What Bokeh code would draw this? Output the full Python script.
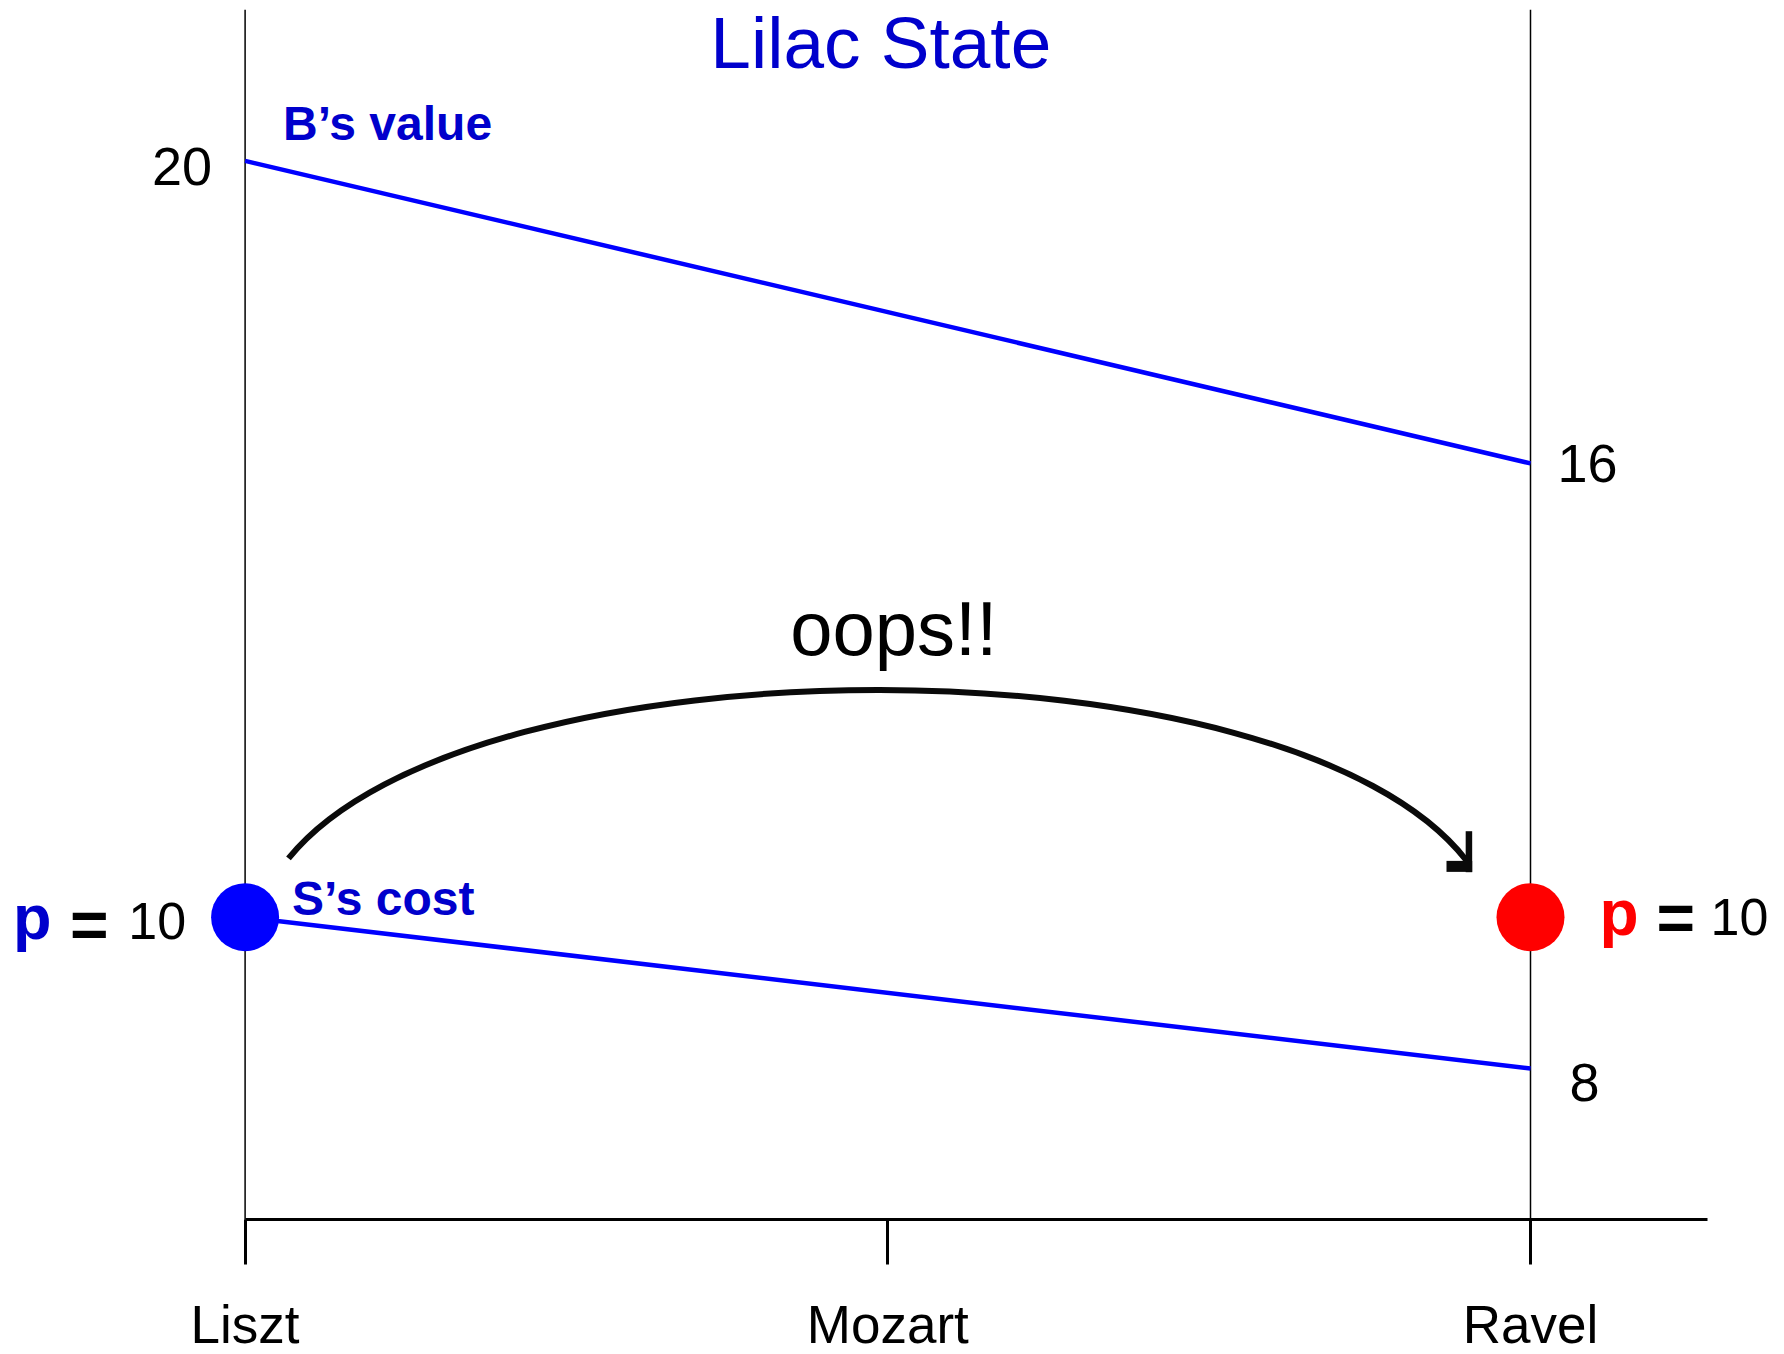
from bokeh.plotting import figure
from bokeh.models import LinearAxis, FixedTicker, Range1d
from bokeh.core.properties import value
from bokeh.embed import file_html
from bokeh.resources import INLINE

# ---------------- data ----------------
composers = ["Liszt", "Mozart", "Ravel"]
composer_x = [0, 1, 2]
line_x = [0, 2]                 # Liszt, Ravel
b_value = [20, 16]              # B's value
s_cost = [10, 8]                # S's cost
price_x = [0, 2]
price = [10, 10]
price_colors = ["#0000FF", "#FF0000"]
price_label_colors = ["#0000CC", "#FF0000"]
axis_level = 6
guide_top = 22
title_text = "Lilac State"
oops_text = "oops!!"
oops_pos = (1.0, 13.46)
arc_start = (0.0675, 10.777)
arc_ctrl1 = (0.3507, 13.751)
arc_ctrl2 = (1.6266, 13.751)
arc_end = (1.9004, 10.750)
arrow_vert = (1.9042, 10.595, 11.137)       # x, y bottom, y top
arrow_horz = (10.672, 1.8693, 1.9093)       # y, x left, x right

FONT = "Liberation Sans"
BLUE_TXT = "#0000CC"

p = figure(width=1784, height=1354, output_backend="svg", toolbar_location=None,
           x_range=Range1d(-0.38058, 2.39521), y_range=Range1d(4.2179, 22.1209),
           x_axis_type=None, y_axis_type=None, min_border=0,
           outline_line_color=None)
p.background_fill_color = "white"
p.border_fill_color = "white"

# vertical guide lines at Liszt and Ravel
p.segment(x0=line_x, y0=[axis_level] * 2, x1=line_x, y1=[guide_top] * 2,
          line_color="black", line_width=1.5)

# value / cost lines
p.line(line_x, b_value, line_color="#0000FF", line_width=4.5)
p.line(line_x, s_cost, line_color="#0000FF", line_width=4.5)

# price dots
p.scatter(price_x, price, size=68, fill_color=price_colors, line_color=None)

# arc arrow
p.bezier(x0=[arc_start[0]], y0=[arc_start[1]], x1=[arc_end[0]], y1=[arc_end[1]],
         cx0=[arc_ctrl1[0]], cy0=[arc_ctrl1[1]], cx1=[arc_ctrl2[0]], cy1=[arc_ctrl2[1]],
         line_color="#0a0a0a", line_width=6)
p.segment(x0=[arrow_vert[0]], y0=[arrow_vert[1]], x1=[arrow_vert[0]], y1=[arrow_vert[2]],
          line_color="#0a0a0a", line_width=6.5)
p.segment(x0=[arrow_horz[1]], y0=[arrow_horz[0]], x1=[arrow_horz[2]], y1=[arrow_horz[0]],
          line_color="#0a0a0a", line_width=11)


def txt(x, y, t, size, color="black", bold=False, align="left", xo=0, yo=0):
    # yo is the wanted baseline offset in pixels (down positive)
    p.text(x=[x], y=[y], text=[t], text_font=value(FONT),
           text_font_size=f"{size}px", text_color=color,
           text_font_style="bold" if bold else "normal",
           text_align=align, text_baseline="alphabetic",
           x_offset=xo, y_offset=yo - 0.35 * size)


# title
txt(composer_x[1], guide_top, title_text, 73, color=BLUE_TXT, align="center", xo=-7, yo=58)

# endpoint labels
txt(line_x[0], b_value[0], str(b_value[0]), 54, align="right", xo=-33, yo=24)
txt(line_x[1], b_value[1], str(b_value[1]), 54, xo=27, yo=19)
txt(line_x[1], s_cost[1], str(s_cost[1]), 54, xo=39, yo=33)

# series names
txt(line_x[0], b_value[0], "B\u2019s value", 48, color=BLUE_TXT, bold=True, xo=38, yo=-21)
txt(line_x[0], s_cost[0], "S\u2019s cost", 48, color=BLUE_TXT, bold=True, xo=47, yo=-2)

# price labels
txt(price_x[0], price[0], "p", 63, color=price_label_colors[0], bold=True, xo=-232, yo=22)
txt(price_x[0], price[0], "=", 66, bold=True, xo=-175, yo=31)
txt(price_x[0], price[0], str(price[0]), 52, align="right", xo=-59, yo=22)
txt(price_x[1], price[1], "p", 64, color=price_label_colors[1], bold=True, xo=69, yo=18)
txt(price_x[1], price[1], "=", 66, bold=True, xo=126, yo=24)
txt(price_x[1], price[1], str(price[1]), 52, xo=180, yo=18)

# oops
txt(oops_pos[0], oops_pos[1], oops_text, 76, align="center", xo=6, yo=0)

# composer axis
xaxis = LinearAxis(fixed_location=axis_level, bounds=(0, 2.2754),
                   ticker=FixedTicker(ticks=composer_x),
                   major_label_overrides={i: c for i, c in zip(composer_x, composers)})
xaxis.axis_line_width = 3
xaxis.axis_line_color = "black"
xaxis.major_tick_line_width = 3
xaxis.major_tick_line_color = "black"
xaxis.major_tick_in = 0
xaxis.major_tick_out = 45
xaxis.minor_tick_line_color = None
xaxis.major_label_text_font = FONT
xaxis.major_label_text_font_size = "53px"
xaxis.major_label_text_color = "black"
xaxis.major_label_standoff = 30
p.add_layout(xaxis, "below")

open("out.html", "w").write(file_html(p, INLINE))
